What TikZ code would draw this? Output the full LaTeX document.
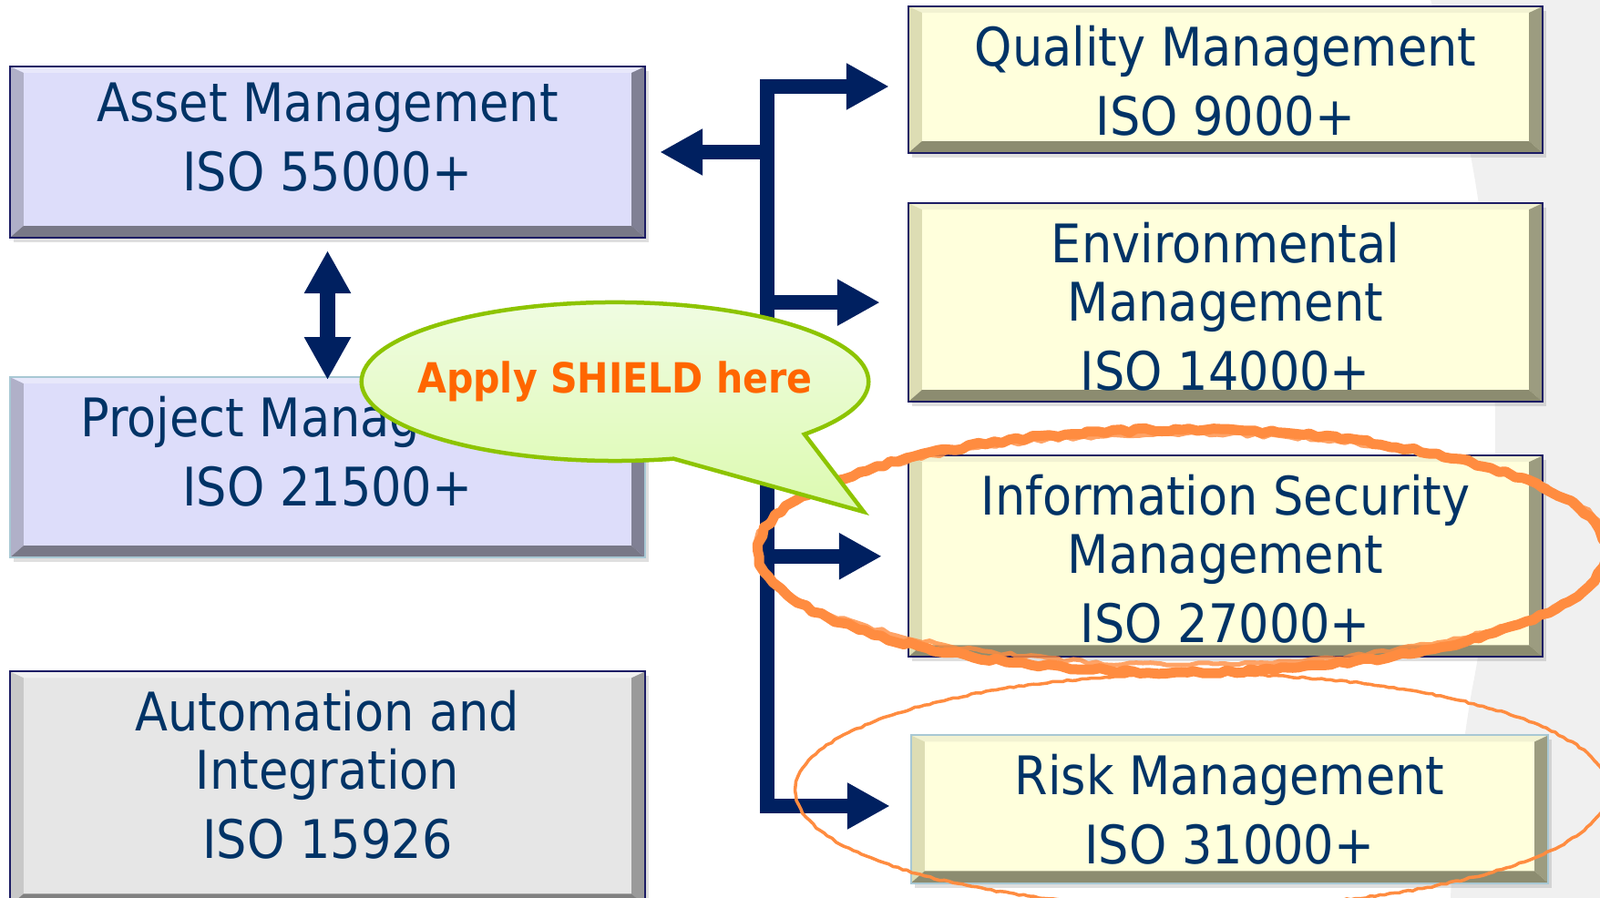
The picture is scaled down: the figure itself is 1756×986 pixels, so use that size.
\documentclass[tikz,border=0pt]{standalone}
\usepackage{fontspec}
\setmainfont{DejaVu Sans}[FakeStretch=0.9]
\usetikzlibrary{positioning,arrows.meta,shapes.callouts,shadows,decorations.pathmorphing}

\definecolor{textnavy}{HTML}{003366}
\definecolor{arrownavy}{HTML}{002060}
\definecolor{boxline}{HTML}{1C1C64}
\definecolor{paleline}{HTML}{A8C8D4}
\definecolor{lavfill}{HTML}{DDDDFA}
\definecolor{lavtop}{HTML}{E8E8FB}
\definecolor{lavleft}{HTML}{B0B0C8}
\definecolor{lavright}{HTML}{808094}
\definecolor{lavbottom}{HTML}{787887}
\definecolor{yelfill}{HTML}{FFFFDC}
\definecolor{yeltop}{HTML}{F2F2D2}
\definecolor{yelleft}{HTML}{DDDDB4}
\definecolor{yelright}{HTML}{9C9C80}
\definecolor{yelbottom}{HTML}{8C8C70}
\definecolor{grayfill}{HTML}{E6E6E6}
\definecolor{graytop}{HTML}{F0F0F0}
\definecolor{grayleft}{HTML}{C8C8C8}
\definecolor{grayright}{HTML}{9A9A9A}
\definecolor{graybottom}{HTML}{808080}
\definecolor{markorange}{HTML}{FF8C40}
\definecolor{shieldorange}{HTML}{FF6600}
\definecolor{bubbleline}{HTML}{8DC400}
\definecolor{bubbletop}{HTML}{F0FCE2}
\definecolor{bubblebot}{HTML}{DCFAB0}

\newcommand{\bevside}{0.15cm}
\newcommand{\bevtop}{0.07cm}
\newcommand{\bevbot}{0.13cm}

\begin{document}
\begin{tikzpicture}[
  x=0.01cm, y=-0.01cm,
  bigtip/.tip={Triangle[width=0.48cm, length=0.47cm]},
  bevelbox/.style n args={5}{draw=boxline, line width=0.02cm, fill=#1, minimum width=6.97cm, inner sep=0pt,
    drop shadow={shadow xshift=0.04cm, shadow yshift=-0.05cm, opacity=0.25},
    path picture={
      \fill[#2] (path picture bounding box.north west) -- (path picture bounding box.north east)
        -- ([shift={(-\bevside,-\bevtop)}]path picture bounding box.north east)
        -- ([shift={(\bevside,-\bevtop)}]path picture bounding box.north west) -- cycle;
      \fill[#3] (path picture bounding box.north west) -- ([shift={(\bevside,-\bevtop)}]path picture bounding box.north west)
        -- ([shift={(\bevside,\bevbot)}]path picture bounding box.south west) -- (path picture bounding box.south west) -- cycle;
      \fill[#4] (path picture bounding box.north east) -- ([shift={(-\bevside,-\bevtop)}]path picture bounding box.north east)
        -- ([shift={(-\bevside,\bevbot)}]path picture bounding box.south east) -- (path picture bounding box.south east) -- cycle;
      \fill[#5] (path picture bounding box.south west) -- (path picture bounding box.south east)
        -- ([shift={(-\bevside,\bevbot)}]path picture bounding box.south east)
        -- ([shift={(\bevside,\bevbot)}]path picture bounding box.south west) -- cycle;
    }},
  lavbox/.style={bevelbox={lavfill}{lavtop}{lavleft}{lavright}{lavbottom}},
  yelbox/.style={bevelbox={yelfill}{yeltop}{yelleft}{yelright}{yelbottom}, minimum width=6.96cm},
  graybox/.style={bevelbox={grayfill}{graytop}{grayleft}{grayright}{graybottom}},
  boxtext/.style={text=textnavy, align=center, inner sep=0pt, font=\fontsize{16.6pt}{18.2pt}\selectfont},
  conn/.style={draw=arrownavy, line width=0.16cm, -bigtip},
  bubble/.style={ellipse callout, draw=bubbleline, line width=0.045cm, top color=bubbletop, bottom color=bubblebot,
    minimum width=5.56cm, minimum height=1.74cm, inner xsep=-0.2cm, inner ysep=0pt, callout pointer arc=35,
    text=shieldorange, font=\fontsize{13pt}{15pt}\selectfont\bfseries},
  scribble/.style={draw=markorange, line join=round, decorate,
    decoration={random steps, segment length=2.5pt, amplitude=0.6pt}}
]
\useasboundingbox (0,0) rectangle (1756,986);
\clip (0,0) rectangle (1756,986);

% background swoosh
\fill[black!6] (1570,0) .. controls (1655,250) and (1655,560) .. (1615,760)
  .. controls (1600,850) and (1595,920) .. (1592,986) -- (1756,986) -- (1756,0) -- cycle;

% standards boxes
\node[lavbox, minimum height=1.88cm] (asset) at (359.5,167) {};
\node[lavbox, draw=paleline, minimum height=1.98cm, below=1.51cm of asset] (project) {};
\node[graybox, minimum height=2.57cm, below=1.23cm of project] (auto) {};
\node[yelbox, minimum height=1.61cm] (quality) at (1345,87.5) {};
\node[yelbox, minimum height=2.18cm, below=0.53cm of quality] (env) {};
\node[yelbox, minimum height=2.21cm, below=0.57cm of env] (infosec) {};
\node[yelbox, draw=paleline, minimum width=6.99cm, minimum height=1.62cm, below=0.84cm of infosec, xshift=0.045cm] (risk) {};

\node[boxtext, yshift=0.16cm] (assetText) at (asset) {Asset Management\\[0.12cm]ISO 55000+};
\node[boxtext, yshift=0.175cm] (projectText) at (project) {Project Management\\[0.12cm]ISO 21500+};
\node[boxtext, yshift=0.155cm] (autoText) at (auto) {Automation and\\Integration\\[0.12cm]ISO 15926};
\node[boxtext, yshift=-0.01cm] (qualityText) at (quality) {Quality Management\\[0.12cm]ISO 9000+};
\node[boxtext, yshift=-0.05cm] (envText) at (env) {Environmental\\Management\\[0.12cm]ISO 14000+};
\node[boxtext, yshift=-0.025cm] (infosecText) at (infosec) {Information Security\\Management\\[0.12cm]ISO 27000+};
\node[boxtext] (riskText) at (risk) {Risk Management\\[0.12cm]ISO 31000+};

% arrows
\coordinate (trunktop) at (842,95);
\coordinate (trunkbot) at (842,885);
\draw[conn, shorten >=0.2cm] (trunkbot) -- (trunktop) -- (trunktop -| quality.west);
\draw[conn, shorten >=0.22cm] (trunktop) -- (trunkbot) -- (trunkbot -| risk.west);
\draw[conn, shorten >=0.15cm] (trunktop |- asset.east) -- (asset.east);
\draw[conn, shorten >=0.3cm] (trunktop |- env.west) -- (env.west);
\draw[conn, shorten >=0.28cm] (trunktop |- infosec.west) -- (infosec.west);
\draw[conn, bigtip-bigtip, shorten <=0.13cm, shorten >=-0.04cm] (asset.south) -- (project.north);

% hand drawn marks
\draw[scribble, line width=0.11cm] (1297,605) ellipse [x radius=465, y radius=133];
\draw[scribble, line width=0.05cm, opacity=0.8] (1300,603) ellipse [x radius=470, y radius=127];
\draw[scribble, line width=0.035cm, decoration={random steps, segment length=1.5pt, amplitude=0.25pt}] (1319,868) ellipse [x radius=446, y radius=128];

% callout
\coordinate (tailtip) at (948,562);
\node[bubble, callout absolute pointer={(tailtip)}] (shield) at (675,419) {Apply SHIELD here};
\end{tikzpicture}
\end{document}
